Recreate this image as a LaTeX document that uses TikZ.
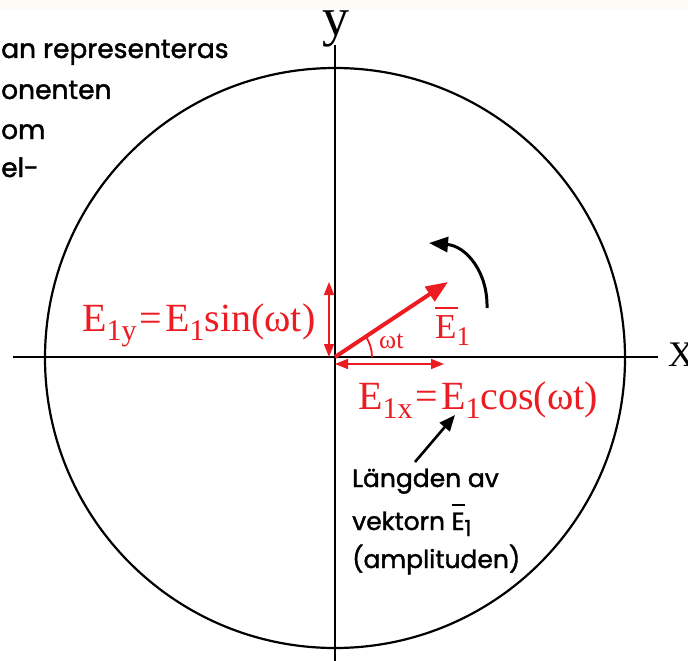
\documentclass[tikz,border=0pt]{standalone}
\usepackage{fontspec}
\setmainfont{Liberation Serif}
\newfontfamily\comicfont[FakeBold=1.5]{Poppins}
\usetikzlibrary{arrows.meta}
\definecolor{vred}{RGB}{235,28,34}
\definecolor{topband}{RGB}{253,251,246}
\newcommand{\rsub}[1]{\raisebox{-9pt}{\fontsize{30}{30}\selectfont #1}}
\newcommand{\ssub}[1]{\raisebox{-6pt}{\fontsize{22}{22}\selectfont #1}}
\begin{document}
\begin{tikzpicture}[x=1pt,y=-1pt,
  axisline/.style={line width=1.8pt, black},
  redtxt/.style={text=vred, font=\fontsize{40}{40}\selectfont, inner sep=0pt},
  comictxt/.style={font=\comicfont\fontsize{26.5}{26.5}\selectfont, inner sep=0pt, anchor=base west},
  comicsmall/.style={font=\comicfont\fontsize{25}{25}\selectfont, inner sep=0pt, anchor=base west},
  dblarrow/.style={vred, line width=1.6pt, {Triangle[length=13pt,width=10pt]}-{Triangle[length=13pt,width=10pt]}}
]
\useasboundingbox (0,0) rectangle (688,661);
\fill[topband] (0,0) rectangle (688,9);

% circle and axes
\coordinate (C) at (335,358);
\draw[line width=2.2pt] (C) circle[radius=290pt];
\coordinate (xl) at (13,357);
\coordinate (xr) at (658,357);
\coordinate (yt) at (335,45);
\coordinate (yb) at (335,661);
\draw[axisline] (xl) -- (xr);
\draw[axisline] (yt) -- (yb);
\node[font=\fontsize{54}{54}\selectfont, inner sep=0pt, anchor=base] (ylab) at (336,36) {y};
\node[font=\fontsize{36}{36}\selectfont, inner sep=0pt, anchor=base west] (xlab) at (668,366) {X};

% origin and vector
\coordinate (O) at (335,357);
\coordinate (tip) at (448,282);
\draw[vred, line width=4pt, -{Triangle[length=22pt,width=17pt]}] (O) -- (tip);

% components
\coordinate (vy0) at (329,357);
\coordinate (vy1) at (329,282);
\draw[dblarrow] (vy0) -- (vy1);
\coordinate (hx0) at (335,364);
\coordinate (hx1) at (444,364);
\draw[dblarrow] (hx0) -- (hx1);

% angle arc
\draw[vred, line width=1.8pt] (372,357) arc[start angle=0, end angle=33, radius=37pt];
\node[text=vred, font=\fontsize{26}{26}\selectfont, inner sep=0pt, anchor=base west] (wt) at (379,348) {ωt};

% E1 label
\node[text=vred, font=\fontsize{35}{35}\selectfont, inner sep=0pt, anchor=base west] (e1) at (435,338)
  {\rlap{\rule[29pt]{23pt}{1.6pt}}E\raisebox{-7pt}{\fontsize{27}{27}\selectfont 1}};

% rotation arrow
\coordinate (rs) at (487,308);
\coordinate (re) at (429,243);
\draw[line width=3pt, -{Triangle[length=19pt,width=15pt]}] (rs) .. controls (488,272) and (466,246) .. (re);

% component labels
\node[redtxt, anchor=base west] (e1y) at (82,331)
  {E\rsub{1y}\hspace{3pt}=\hspace{3pt}E\rsub{1}sin(ωt)};
\node[redtxt, anchor=base west] (e1x) at (358,409)
  {E\rsub{1x}\hspace{3pt}=\hspace{3pt}E\rsub{1}cos(ωt)};

% left cut text
\node[comictxt] (t1) at (1,58) {an representeras};
\node[comictxt] (t2) at (1,99) {onenten};
\node[comictxt] (t3) at (1,139) {om};
\node[comictxt] (t4) at (1,177) {el-};

% amplitude text
\node[comicsmall] (l1) at (352,487) {Längden av};
\node[comicsmall] (l2) at (352,530) {vektorn \rlap{\rule[24pt]{13pt}{1.8pt}}E\ssub{1}};
\node[comicsmall] (l3) at (352,568) {(amplituden)};
\coordinate (ltail) at (415,462);
\coordinate (ltip) at (455,415);
\draw[line width=2.6pt, -{Triangle[length=16pt,width=13pt]}] (ltail) -- (ltip);
\end{tikzpicture}
\end{document}
